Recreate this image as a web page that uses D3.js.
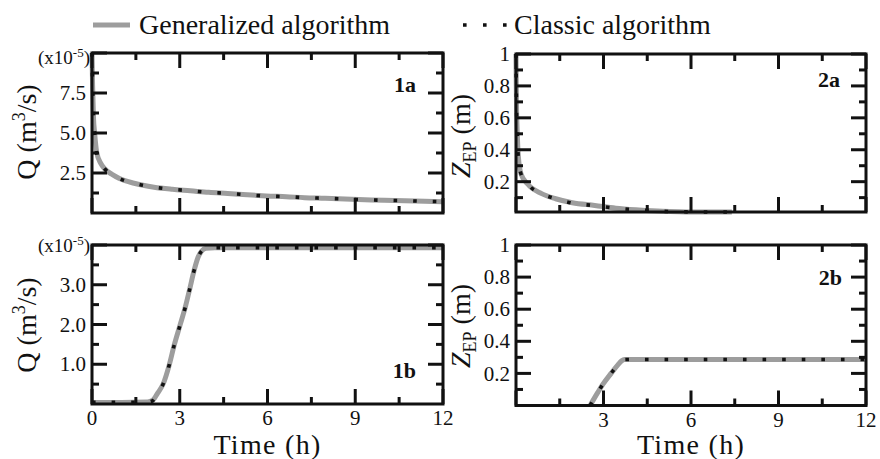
<!DOCTYPE html>
<html><head><meta charset="utf-8">
<script src="https://cdn.jsdelivr.net/npm/d3@7/dist/d3.min.js"></script>
<style>
body{margin:0;background:#fff;}
svg{display:block;}
svg text{font-family:"Liberation Serif","Times New Roman",serif;}
</style></head>
<body><svg id="c" width="880" height="459"></svg>
<script>
// ---------- data ----------
const seriesNames = ["Generalized algorithm", "Classic algorithm"];

// Panel 1a : Q (x1e-5 m3/s) vs time (h)
const t1a      = [0, 0.02, 0.05, 0.09, 0.16, 0.3, 0.44, 0.7, 0.92, 1.44, 2.12, 2.75, 3.36, 3.99, 4.64, 5.31, 5.96, 6.64, 7.27, 7.97, 8.65, 9.33, 10.0, 10.69, 11.38, 12];
const q1aGen   = [10, 8.0, 6.0, 5.0, 3.8, 3.1, 2.75, 2.4, 2.17, 1.86, 1.61, 1.48, 1.39, 1.29, 1.22, 1.14, 1.07, 1.02, 0.96, 0.92, 0.875, 0.83, 0.79, 0.77, 0.73, 0.71];
const q1aCls   = [10, 8.1, 6.1, 5.0, 3.73, 3.1, 2.75, 2.4, 2.17, 1.86, 1.61, 1.48, 1.39, 1.29, 1.23, 1.14, 1.06, 1.02, 0.96, 0.92, 0.875, 0.83, 0.79, 0.77, 0.73, 0.71];

// Panel 2a : Z_EP (m) vs time (h)
const t2a      = [0, 0.01, 0.02, 0.04, 0.08, 0.17, 0.4, 0.88, 1.36, 1.93, 2.7, 3.42, 4.22, 5.03, 5.6, 6.37, 7.24, 7.4];
const z2aGen   = [1, 0.8, 0.65, 0.52, 0.36, 0.25, 0.185, 0.125, 0.093, 0.068, 0.051, 0.034, 0.023, 0.015, 0.012, 0.01, 0.01, 0.01];
const z2aCls   = [1, 0.8, 0.65, 0.52, 0.35, 0.25, 0.185, 0.125, 0.093, 0.066, 0.05, 0.034, 0.023, 0.014, 0.012, 0.01, 0.01, 0.01];

// Panel 1b : Q (x1e-5 m3/s) vs time (h)
const t1b      = [0, 1, 1.9, 2.07, 2.25, 2.43, 2.64, 2.81, 3.0, 3.18, 3.34, 3.48, 3.62, 3.75, 3.9, 4.2, 5, 12];
const q1bGen   = [0.04, 0.04, 0.05, 0.09, 0.28, 0.5, 0.98, 1.48, 1.96, 2.41, 2.89, 3.33, 3.68, 3.85, 3.92, 3.93, 3.93, 3.93];
const q1bCls   = [0.04, 0.04, 0.05, 0.08, 0.27, 0.5, 0.98, 1.48, 1.96, 2.41, 2.89, 3.33, 3.68, 3.85, 3.92, 3.93, 3.93, 3.93];

// Panel 2b : Z_EP (m) vs time (h)
const t2b      = [2.54, 2.8, 2.97, 3.26, 3.5, 3.62, 3.72, 4.0, 12];
const z2bGen   = [0.0, 0.08, 0.13, 0.2, 0.255, 0.278, 0.286, 0.287, 0.287];
const z2bCls   = [0.0, 0.08, 0.13, 0.2, 0.255, 0.278, 0.286, 0.287, 0.287];

// ticks
const xMajor = [0, 3, 6, 9, 12];
const xMinor = [1.5, 4.5, 7.5, 10.5];
const xLabels1 = ["0", "3", "6", "9", "12"];
const xLabels2 = ["", "3", "6", "9", "12"];
const q1aMajor = [2.5, 5, 7.5, 10];
const q1aLabels = ["2.5", "5.0", "7.5", ""];
const q1aMinor = [1.25, 3.75, 6.25, 8.75];
const q1bMajor = [1, 2, 3, 4];
const q1bLabels = ["1.0", "2.0", "3.0", ""];
const q1bMinor = [0.5, 1.5, 2.5, 3.5];
const zMajor = [0.2, 0.4, 0.6, 0.8, 1];
const zLabels = ["0.2", "0.4", "0.6", "0.8", "1"];
const zMinor = [0.1, 0.3, 0.5, 0.7, 0.9];

// ---------- drawing ----------
const svg = d3.select("#c");
const GRAY = "#9d9d9d", INK = "#111111";

const panels = [
  {id:"1a", x:d3.scaleLinear([0,12],[92,443]), y:d3.scaleLinear([0,10],[213,53]),
   t:t1a, gen:q1aGen, cls:q1aCls, yMaj:q1aMajor, yLab:q1aLabels, yMin:q1aMinor, xLab:null,
   tag:{x:416,y:92}, ylab:"Q", ylabPos:{x:36,y:132}, mult:{x:90,y:64}},
  {id:"2a", x:d3.scaleLinear([0,12],[516,866]), y:d3.scaleLinear([0.01,1],[212,54]),
   t:t2a, gen:z2aGen, cls:z2aCls, yMaj:zMajor, yLab:zLabels, yMin:zMinor, xLab:null,
   tag:{x:840,y:87}, ylab:"Z", ylabPos:{x:470,y:136}},
  {id:"1b", x:d3.scaleLinear([0,12],[92,443]), y:d3.scaleLinear([0,4],[404,245]),
   t:t1b, gen:q1bGen, cls:q1bCls, yMaj:q1bMajor, yLab:q1bLabels, yMin:q1bMinor, xLab:xLabels1,
   tag:{x:416,y:378}, ylab:"Q", ylabPos:{x:36,y:325}, mult:{x:90,y:252}},
  {id:"2b", x:d3.scaleLinear([0,12],[516,866]), y:d3.scaleLinear([0,1],[405.5,245]),
   t:t2b, gen:z2bGen, cls:z2bCls, yMaj:zMajor, yLab:zLabels, yMin:zMinor, xLab:xLabels2,
   tag:{x:842,y:285}, ylab:"Z", ylabPos:{x:470,y:326}}
];

const curveLayer = svg.append("g").attr("id","curves");
const axesLayer = svg.append("g").attr("id","axes");
const tickLayer = svg.append("g").attr("id","ticks");

function tick(xa, ya, xb, yb2) {
  tickLayer.append("line")
    .attr("x1", xa).attr("y1", ya).attr("x2", xb).attr("y2", yb2)
    .attr("stroke", INK).attr("stroke-width", 3);
}

panels.forEach(p => {
  const [x0,x1] = p.x.range(), [yb,yt] = p.y.range();
  const line = d3.line().x((d,i)=>p.x(p.t[i])).y(d=>p.y(d)).curve(d3.curveMonotoneX);
  curveLayer.append("path").attr("d", line(p.gen)).attr("fill","none")
    .attr("stroke",GRAY).attr("stroke-width",5).attr("stroke-linejoin","round");
  curveLayer.append("path").attr("d", line(p.cls)).attr("fill","none")
    .attr("stroke","#111").attr("stroke-width",3.6).attr("stroke-dasharray","3.6 16");

  // frame
  axesLayer.append("rect").attr("x",x0).attr("y",yt).attr("width",x1-x0).attr("height",yb-yt)
    .attr("fill","none").attr("stroke",INK).attr("stroke-width",3);

  // inward ticks on all four sides
  p.yMaj.forEach(v => { const yy = p.y(v); tick(x0, yy, x0 + 15, yy); tick(x1, yy, x1 - 15, yy); });
  p.yMin.forEach(v => { const yy = p.y(v); tick(x0, yy, x0 + 7, yy); tick(x1, yy, x1 - 7, yy); });
  xMajor.forEach(v => { const xx = p.x(v); tick(xx, yt, xx, yt + 15); tick(xx, yb, xx, yb - 15); });
  xMinor.forEach(v => { const xx = p.x(v); tick(xx, yt, xx, yt + 7); tick(xx, yb, xx, yb - 7); });

  const g = axesLayer.append("g");
  // tick labels
  g.selectAll(".ylab").data(p.yMaj).join("text").attr("class","ylab")
    .attr("x",x0-6).attr("y",d=>p.y(d)).attr("dy","0.34em").attr("text-anchor","end")
    .attr("font-size",21).attr("fill",INK).text((d,i)=>p.yLab[i]);
  if (p.xLab) {
    g.selectAll(".xlab").data(xMajor).join("text").attr("class","xlab")
      .attr("x",d=>p.x(d)).attr("y",yb+21).attr("text-anchor","middle")
      .attr("font-size",21).attr("fill",INK).text((d,i)=>p.xLab[i]);
  }

  // panel tag
  g.append("text").attr("x",p.tag.x).attr("y",p.tag.y).attr("text-anchor","end")
    .attr("font-weight","bold").attr("font-size",22).attr("fill",INK).text(p.id);

  // multiplier
  if (p.mult) {
    const m = g.append("text").attr("x",p.mult.x).attr("y",p.mult.y).attr("text-anchor","end")
      .attr("font-size",19).attr("fill",INK);
    m.append("tspan").text("(x10");
    m.append("tspan").attr("dy",-7).attr("font-size",13).text("-5");
    m.append("tspan").attr("dy",7).text(")");
  }

  // y label
  const yl = g.append("text").attr("transform",`translate(${p.ylabPos.x},${p.ylabPos.y}) rotate(-90)`)
    .attr("text-anchor","middle").attr("font-size",28).attr("fill",INK);
  if (p.ylab === "Q") {
    yl.append("tspan").text("Q (m");
    yl.append("tspan").attr("dy",-11).attr("font-size",18).text("3");
    yl.append("tspan").attr("dy",11).text("/s)");
  } else {
    yl.append("tspan").attr("font-style","italic").text("Z");
    yl.append("tspan").attr("dy",6).attr("font-size",18).text("EP");
    yl.append("tspan").attr("dy",-6).text(" (m)");
  }

  if (p.xLab) {
    g.append("text").attr("x",(x0+x1)/2).attr("y",454).attr("text-anchor","middle")
      .attr("font-size",28).attr("letter-spacing",1.3).attr("fill",INK).text("Time (h)");
  }
});

// legend
const leg = svg.append("g");
leg.append("line").attr("x1",93).attr("x2",130).attr("y1",25).attr("y2",25)
  .attr("stroke",GRAY).attr("stroke-width",5);
leg.append("text").attr("x",139).attr("y",34).attr("font-size",28).attr("fill",INK).text(seriesNames[0]);
leg.append("line").attr("x1",463).attr("x2",508).attr("y1",25).attr("y2",25)
  .attr("stroke","#111").attr("stroke-width",3.6).attr("stroke-dasharray","3.6 16.4");
leg.append("text").attr("x",514).attr("y",34).attr("font-size",28).attr("fill",INK).text(seriesNames[1]);
</script></body></html>
